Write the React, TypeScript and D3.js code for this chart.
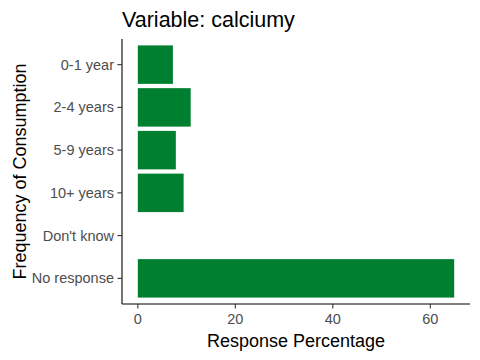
import React from "react";
import * as d3 from "d3";

// frequency categories, top to bottom
const categories = ["0-1 year", "2-4 years", "5-9 years", "10+ years", "Don't know", "No response"];
const percentages = [7.2, 10.85, 7.8, 9.4, 0, 64.9];
const xTicks = [0, 20, 40, 60];

const width = 480;
const height = 360;
const margin = { top: 39, right: 10, bottom: 56, left: 122 };
const font = "'Liberation Sans', Arial, sans-serif";

const App = () => {
  const maxVal = d3.max(percentages) as number;
  const pad = maxVal * 0.05;

  const x = d3
    .scaleLinear()
    .domain([0 - pad, maxVal + pad])
    .range([margin.left, width - margin.right]);

  const y = d3
    .scaleBand()
    .domain(categories)
    .range([margin.top, height - margin.bottom])
    .paddingInner(0.1)
    .paddingOuter(0.15);

  const bottom = height - margin.bottom;
  const midY = (margin.top + bottom) / 2;
  const midX = (margin.left + width - margin.right) / 2;

  return (
    <svg
      width={width}
      height={height}
      style={{ position: "absolute", left: 0, top: 0, background: "#fff" }}
      fontFamily={font}
    >
      <text x={margin.left} y={27} fontSize={21.5} fill="#000">
        Variable: calciumy
      </text>

      {categories.map((c, i) => (
        <rect
          key={c}
          x={x(0)}
          y={y(c)}
          width={x(percentages[i]) - x(0)}
          height={y.bandwidth()}
          fill="#007F31"
        />
      ))}

      {/* axes */}
      <line x1={margin.left} x2={margin.left} y1={margin.top} y2={bottom} stroke="#000" strokeWidth={1.1} />
      <line x1={margin.left} x2={width - margin.right} y1={bottom} y2={bottom} stroke="#000" strokeWidth={1.1} />

      {categories.map(c => {
        const cy = (y(c) as number) + y.bandwidth() / 2;
        return (
          <g key={c}>
            <line x1={margin.left - 4.6} x2={margin.left} y1={cy} y2={cy} stroke="#333" strokeWidth={1.1} />
            <text x={margin.left - 8} y={cy} dy="0.35em" textAnchor="end" fontSize={14.5} fill="#4D4D4D">
              {c}
            </text>
          </g>
        );
      })}

      {xTicks.map(t => (
        <g key={t}>
          <line x1={x(t)} x2={x(t)} y1={bottom} y2={bottom + 4.6} stroke="#333" strokeWidth={1.1} />
          <text x={x(t)} y={324} textAnchor="middle" fontSize={14.5} fill="#4D4D4D">
            {t}
          </text>
        </g>
      ))}

      <text x={midX} y={347} textAnchor="middle" fontSize={18} fill="#000">
        Response Percentage
      </text>
      <text
        transform={`translate(26, ${midY}) rotate(-90)`}
        textAnchor="middle"
        fontSize={18}
        fill="#000"
      >
        Frequency of Consumption
      </text>
    </svg>
  );
};

export default App;
